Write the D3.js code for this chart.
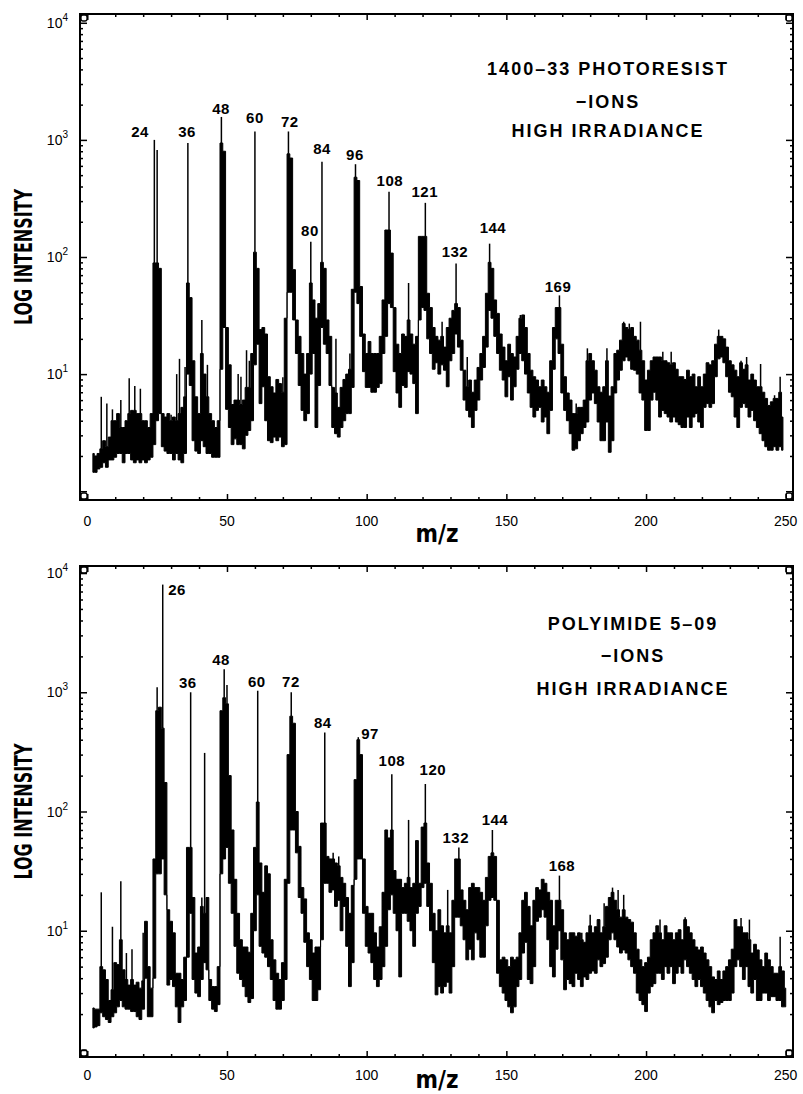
<!DOCTYPE html>
<html>
<head>
<meta charset="utf-8">
<script src="https://cdn.jsdelivr.net/npm/d3@7"></script>
<style>
  body { margin: 0; background: #fff; }
  svg { display: block; font-family: "Liberation Sans", Arial, sans-serif; }
</style>
</head>
<body>
<div id="chart"></div>
<script>
// m/z of the first value in every series, one value per m/z unit after that
const startMz = 2;

// 1400-33 photoresist: lower and upper edge of the trace band per m/z (2..249)
const photoresistHigh = [
  2.1, 2.0, 2.1, 2.3, 2.7, 2.4, 2.9, 4.0, 4.0, 4.6,
  3.5, 3.5, 4.0, 4.6, 4.9, 4.9, 4.6, 4.6, 4.0, 4.0,
  3.5, 4.6, 89, 89, 80, 4.6, 4.3, 4.6, 4.0, 4.3,
  4.0, 4.6, 5.2, 6.4, 60, 45, 13, 6.4, 4.6, 15,
  10, 6.4, 4.6, 4.0, 3.5, 4.0, 940, 800, 25, 12,
  5.5, 6, 6, 5.5, 6, 7.7, 7.7, 15, 110, 80,
  24, 25, 22, 9.5, 7.8, 6.9, 9, 8.3, 7, 30,
  760, 700, 78, 29, 21, 15, 10, 15, 60, 43,
  30, 40, 90, 80, 29, 21, 7.7, 6.9, 5.2, 7.7,
  9, 10, 11, 53, 480, 450, 56, 22, 15, 19,
  15, 15, 15, 21, 43, 170, 170, 108, 37, 18,
  15, 22, 21, 29, 22, 18, 21, 150, 150, 150,
  49, 37, 25, 21, 19.5, 21, 17, 25, 30, 35,
  40, 37, 19.5, 10.8, 7.8, 8.9, 7, 8.9, 11.4, 15,
  21, 49, 90, 80, 43, 33, 22, 17, 13, 18,
  15, 14, 21, 30, 32, 25, 15, 10.8, 9.5, 8.9,
  7.8, 8.9, 7.8, 7, 13, 25, 37, 37, 18, 9.5,
  6.9, 6, 4.6, 4.6, 5.2, 5.2, 6, 13, 15, 13,
  10.8, 7.8, 7, 7.8, 13, 6.5, 7.8, 15, 16, 19.5,
  27, 25, 24, 25, 21, 19.5, 16, 13, 8.9, 10.8,
  13, 14, 14, 14, 13, 13, 12.5, 12, 12.5, 11,
  9.5, 9.5, 9, 10.8, 9.5, 10, 7.8, 9.5, 7.8, 10,
  12.5, 12, 13, 18, 21, 21, 20, 17, 13, 12,
  10.8, 9.5, 12.5, 11, 12, 8.9, 10, 8.9, 7.8, 7.8,
  7, 6.2, 5.4, 5.8, 6.2, 6.2, 7, 4.3
];
const photoresistLow = [
  1.45, 1.45, 1.55, 1.6, 1.75, 1.6, 1.85, 1.85, 1.95, 2.1,
  2.1, 1.75, 2.1, 2.1, 1.85, 1.75, 1.85, 1.75, 1.85, 1.75,
  1.85, 1.95, 2.5, 4, 4.6, 2.4, 2.2, 2.1, 2.1, 1.85,
  2.1, 1.85, 1.75, 2.1, 10, 8, 2.7, 2.2, 2.1, 2.7,
  2.4, 2.1, 2.1, 1.95, 1.95, 1.95, 11, 25, 5, 3.5,
  2.5, 2.8, 2.5, 2.5, 2.3, 3, 3.3, 4, 12, 18,
  5.6, 7.8, 4, 2.7, 2.6, 2.9, 2.7, 2.9, 2.4, 2.5,
  50, 50, 29, 15, 8, 4.9, 4, 4.6, 10, 15,
  3.5, 8, 25, 18, 15, 8, 3.5, 3.1, 2.9, 3.5,
  4, 4.6, 4.6, 7.7, 50, 40, 21, 10.5, 7.7, 7.7,
  7, 7, 7.7, 8.3, 15, 21, 40, 37, 10.5, 6.9,
  5.2, 8, 7.7, 10.5, 10, 8.3, 4.6, 29, 37, 35,
  20, 15, 11, 12.5, 10, 12, 10.8, 7.8, 13, 15,
  22, 17, 10.8, 6, 4.9, 4.3, 3.5, 4.9, 6, 8.9,
  11.4, 17, 35, 30, 21, 15, 10.8, 8.9, 6.4, 9.5,
  6, 7.8, 11, 15, 13, 10, 6.9, 5.2, 4.3, 4.9,
  5.2, 3.9, 4.3, 3.1, 4.9, 11, 20, 15, 6.9, 4.9,
  4, 3.1, 2.24, 2.3, 2.7, 3.1, 3.5, 3.9, 6, 6.9,
  5.6, 3.9, 2.7, 2.7, 3.9, 2.15, 2.7, 6.9, 8.9, 10.8,
  13, 14, 13, 11, 10.8, 10, 6.9, 6, 3.3, 3.3,
  6, 7, 6, 4.3, 4.9, 4.6, 4.3, 3.9, 4.3, 3.9,
  3.7, 3.5, 3.5, 4.3, 3.5, 4.3, 4.6, 3.9, 3.5, 5.2,
  5.6, 5.2, 5.6, 9.5, 13.5, 14, 12.5, 9.5, 7, 6.4,
  4.3, 3.5, 5.2, 5.6, 5.2, 4.3, 4.9, 4, 3.5, 3.1,
  2.7, 2.4, 2.24, 2.24, 2.4, 2.24, 2.4, 2.24
];
// narrow lines that rise above the band: [m/z, intensity]
const photoresistSpikes = [
  [5, 6.4], [7, 5.6], [9, 5.0], [12, 6.0], [15, 9.2], [17, 7.9], [19, 7.5],
  [24, 1000], [25, 820], [30, 4.5], [32, 10], [33, 13.5], [35, 11.5], [36, 940],
  [41, 29], [43, 12], [48, 1570], [54, 10], [55, 9.5], [57, 16], [58, 13],
  [60, 1180], [70, 9.4], [72, 1180], [80, 135], [84, 650], [89, 20], [94, 15],
  [96, 620], [99, 19.5], [108, 360], [115, 60], [121, 290], [127, 28], [132, 88],
  [134, 14], [136, 14], [144, 130], [149, 16.6], [155, 32], [169, 47], [175, 5.6],
  [179, 16.6], [186, 16.6], [192, 28], [194, 27], [198, 28], [206, 15.5], [209, 15.5],
  [226, 24], [234, 13], [236, 14], [241, 12.2], [246, 6.6], [248, 9.5]
];
// peak labels: [text, m/z of text centre, intensity at baseline]
const photoresistPeakLabels = [
  ["24", 18.9, 1059], ["36", 35.7, 1059], ["48", 47.9, 1664], ["60", 60.0, 1393],
  ["72", 72.5, 1288], ["84", 84.0, 758], ["96", 95.8, 674], ["80", 79.7, 151],
  ["108", 108.3, 404], ["121", 120.8, 325], ["132", 131.6, 100], ["144", 145.2, 160],
  ["169", 168.5, 50]
];
const photoresistTitle = ["1400\u201333 PHOTORESIST", "\u2212IONS", "HIGH IRRADIANCE"];

// Polyimide 5-09: lower and upper edge of the trace band per m/z (2..250)
const polyimideHigh = [
  2.25, 2.2, 2.2, 5, 4.7, 3.9, 2.6, 3.2, 5.4, 5.2,
  8.4, 4.7, 3.9, 3.5, 3.9, 3.5, 3.7, 3.3, 3.8, 12,
  5, 3.3, 40, 700, 750, 500, 175, 15, 12, 9.6,
  4.4, 4.4, 3.9, 6, 50, 50, 19, 6.5, 7.3, 16,
  14, 19, 3.9, 3.4, 3.4, 5, 700, 900, 800, 200,
  70, 27, 14, 8.4, 7.3, 7.3, 6.6, 14, 50, 120,
  37, 21, 35, 30, 8.4, 5.7, 4.4, 3.9, 5.4, 27,
  300, 630, 550, 100, 51, 23, 18.5, 9.6, 8.4, 6.5,
  7.3, 7.3, 80, 80, 42, 40, 40, 37, 35, 28,
  25, 19, 14, 24, 185, 400, 300, 40, 16, 14,
  14, 9.6, 7.3, 10.8, 21, 70, 60, 70, 32, 27,
  27, 23, 25, 28, 23, 25, 57, 25, 74, 80,
  37, 25, 14, 10, 15, 11, 9.6, 11, 9.6, 18,
  40, 40, 22, 18, 15, 23, 25, 23, 23, 21,
  18, 28, 42, 45, 42, 18, 5.7, 6, 5.7, 5,
  6, 5.7, 6, 9.6, 18, 21, 16, 11, 18, 23,
  22, 27, 25, 21, 18, 11, 18, 18, 15, 9.6,
  8.4, 9.6, 9.6, 9, 9.6, 8.4, 8, 9.6, 11, 9.6,
  10.8, 12.4, 9.6, 10.8, 16, 19, 21, 18, 15, 13,
  15, 13, 12.4, 11.8, 9.6, 7, 5.7, 5, 5.4, 6,
  8.4, 9.6, 11, 9.6, 8.4, 11, 9.6, 9.6, 8.4, 9.6,
  10.2, 8.4, 12.4, 10.8, 9.6, 8.4, 7.3, 6.9, 7.3, 6.5,
  5.7, 5, 4.1, 3.9, 4.6, 3.9, 4.6, 5, 5.7, 7,
  12.4, 10.8, 10.8, 9.6, 9.6, 8.4, 6.5, 7.7, 6.9, 5.7,
  5, 6.5, 5.7, 5, 4.4, 4.4, 5, 4.6, 3.3
];
const polyimideLow = [
  1.53, 1.56, 1.6, 2.05, 1.9, 1.8, 1.7, 1.9, 2.05, 2.3,
  2.6, 2.3, 2.2, 2.2, 2.1, 2.1, 1.9, 1.8, 2.2, 4,
  1.9, 1.9, 4, 30, 30, 40, 20, 3.5, 3.9, 3.4,
  2.3, 1.7, 2.3, 2.6, 6, 14, 3.9, 3, 2.8, 3.9,
  5.4, 4.7, 2.6, 2.2, 2.1, 2.4, 30, 40, 50, 25,
  14, 7.4, 4.4, 3.9, 3.4, 2.8, 2.5, 2.7, 10, 20,
  7.4, 6.5, 6, 5, 3.9, 2.6, 2.2, 2.2, 2.6, 3.9,
  25, 70, 70, 45, 19, 14, 8, 5, 3.9, 2.6,
  2.6, 3.2, 8.4, 25, 25, 21, 22, 16, 18, 10,
  16, 7.4, 3.4, 5.4, 27, 40, 40, 14, 7.4, 6.5,
  5.4, 3.9, 3.4, 3.9, 5, 7.4, 15, 20, 14, 10,
  4.1, 14, 14, 12, 10, 7.4, 14, 16, 23, 25,
  16, 10, 5.4, 2.9, 3.4, 3, 3.4, 3.7, 3, 5,
  13, 13, 11, 8.4, 5.7, 7, 5.7, 9.6, 8.4, 6,
  6, 11, 18, 19, 18, 4.4, 3.4, 3, 2.6, 2.3,
  2.05, 2.3, 3.4, 3.9, 6.5, 8, 3.9, 3.6, 5, 12,
  13, 15, 13, 8.4, 5, 4.1, 7, 10, 5.7, 3.2,
  3.9, 3.6, 3.4, 4.4, 3.9, 3.4, 4.1, 3.9, 4.4, 4.6,
  4.4, 5.7, 5, 5.3, 6, 8.4, 9.6, 8.4, 7.3, 6.5,
  6.9, 6.5, 5.7, 5, 4.4, 3, 2.6, 2.4, 2.1, 3,
  3.4, 3.6, 4.4, 4.4, 3.9, 5, 4.4, 5, 3.6, 4.4,
  5, 4.4, 5.7, 5, 4.4, 3.9, 3.4, 3.9, 3.4, 3,
  2.6, 2.3, 2.05, 2.6, 2.4, 2.5, 2.6, 2.6, 2.6, 3,
  5, 5.7, 5, 3.9, 5, 3.4, 3, 3.9, 2.6, 2.6,
  3, 3, 2.6, 2.8, 2.8, 2.6, 2.6, 2.3, 2.3
];
const polyimideSpikes = [
  [5, 21], [9, 10.8], [12, 26], [14, 6.5], [16, 7], [20, 9.6], [25, 1100],
  [27, 8000], [30, 12], [37, 1000], [41, 19], [42, 310], [49, 1560], [50, 1150],
  [61, 1030], [73, 1000], [85, 460], [88, 45], [90, 42], [97, 420], [109, 205],
  [115, 85], [118, 57], [121, 170], [129, 22], [133, 50], [145, 70], [163, 27],
  [169, 29], [177, 9.6], [180, 13.6], [185, 17], [188, 23], [190, 22], [192, 20],
  [205, 12.4], [214, 13], [232, 12.4], [234, 12.8], [237, 12.4], [248, 8.9]
];
const polyimidePeakLabels = [
  ["26", 32.1, 6560], ["36", 36.0, 1088], ["48", 47.9, 1698], ["60", 60.7, 1110],
  ["72", 72.9, 1110], ["84", 84.3, 503], ["97", 101.2, 406], ["108", 109.0, 241],
  ["120", 123.7, 203], ["132", 131.9, 54.5], ["144", 145.9, 77], ["168", 169.9, 31.8]
];
const polyimideTitle = ["POLYIMIDE 5\u201309", "\u2212IONS", "HIGH IRRADIANCE"];

const xTickLabels = [0, 50, 100, 150, 200, 250];
const yTickLabels = [10, 100, 1000, 10000];

const width = 803, height = 1094;
const left = 80, right = 793;

const svg = d3.select("#chart").append("svg")
  .attr("width", width)
  .attr("height", height);

const x = d3.scaleLinear().domain([-2.61, 252.6]).range([left, right]);

const panels = [
  { top: 14, bottom: 500, pad: 0.075, high: photoresistHigh, low: photoresistLow,
    spikes: photoresistSpikes, labels: photoresistPeakLabels, title: photoresistTitle,
    titleX: 608, titleY: [75, 108, 137], tickLabelY: 26, xTitleY: 542 },
  { top: 566, bottom: 1057, pad: 0.059, high: polyimideHigh, low: polyimideLow,
    spikes: polyimideSpikes, labels: polyimidePeakLabels, title: polyimideTitle,
    titleX: 633, titleY: [630, 662, 695], tickLabelY: 23, xTitleY: 1088 }
];

function isDecade(v) {
  const l = Math.log10(v);
  return Math.abs(l - Math.round(l)) < 1e-6;
}

function drawPanel(p) {
  const y = d3.scaleLog()
    .domain([10 ** -p.pad, 10 ** (4 + p.pad)])
    .range([p.bottom, p.top]);
  const g = svg.append("g");

  const rows = p.high.map((h, i) => ({ mz: startMz + i, hi: h, lo: p.low[i] }));
  const byMz = new Map(rows.map(r => [r.mz, r]));

  // the trace band, stepped so the noise keeps its ragged look
  const area = d3.area()
    .x(d => x(d.mz))
    .y0(d => y(d.lo))
    .y1(d => y(d.hi))
    .curve(d3.curveStep);

  g.append("path")
    .datum(rows)
    .attr("d", area)
    .attr("fill", "#000")
    .attr("stroke", "#000")
    .attr("stroke-width", 1);

  g.selectAll(".spike")
    .data(p.spikes)
    .join("line")
    .attr("class", "spike")
    .attr("x1", d => x(d[0]))
    .attr("x2", d => x(d[0]))
    .attr("y1", d => y(byMz.get(d[0]).hi))
    .attr("y2", d => y(d[1]))
    .attr("stroke", "#000")
    .attr("stroke-width", 1.5);

  // ticks on all four sides, pointing inward
  const yTicks = y.ticks().filter(v => v >= 1 && v <= 10000);
  const yMajor = yTicks.filter(isDecade);
  const yMinor = yTicks.filter(v => !isDecade(v));
  const xMajor = d3.range(0, 251, 50);
  const xMinor = d3.range(10, 250, 10).filter(v => v % 50 !== 0);

  const styleAxis = a => {
    a.select(".domain").remove();
    a.selectAll(".tick line").attr("stroke", "#000").attr("stroke-width", 1.5);
  };

  g.append("g").attr("transform", `translate(${left},0)`)
    .call(d3.axisLeft(y).tickValues(yMajor).tickSize(-7).tickFormat("")).call(styleAxis);
  g.append("g").attr("transform", `translate(${left},0)`)
    .call(d3.axisLeft(y).tickValues(yMinor).tickSize(-3).tickFormat("")).call(styleAxis);
  g.append("g").attr("transform", `translate(${right},0)`)
    .call(d3.axisRight(y).tickValues(yMajor).tickSize(-7).tickFormat("")).call(styleAxis);
  g.append("g").attr("transform", `translate(${right},0)`)
    .call(d3.axisRight(y).tickValues(yMinor).tickSize(-3).tickFormat("")).call(styleAxis);

  g.append("g").attr("transform", `translate(0,${p.bottom})`)
    .call(d3.axisBottom(x).tickValues(xMajor).tickSize(-6).tickFormat("")).call(styleAxis);
  g.append("g").attr("transform", `translate(0,${p.bottom})`)
    .call(d3.axisBottom(x).tickValues(xMinor).tickSize(-3).tickFormat("")).call(styleAxis);
  g.append("g").attr("transform", `translate(0,${p.top})`)
    .call(d3.axisTop(x).tickValues(xMajor).tickSize(-6).tickFormat("")).call(styleAxis);
  g.append("g").attr("transform", `translate(0,${p.top})`)
    .call(d3.axisTop(x).tickValues(xMinor).tickSize(-3).tickFormat("")).call(styleAxis);

  // frame
  g.append("rect")
    .attr("x", left).attr("y", p.top)
    .attr("width", right - left).attr("height", p.bottom - p.top)
    .attr("fill", "none").attr("stroke", "#000").attr("stroke-width", 2);

  // little corner marks of the plotter
  const corners = [[left + 1, p.top + 1], [right - 7, p.top + 1],
                   [left + 1, p.bottom - 7], [right - 7, p.bottom - 7]];
  g.selectAll(".corner")
    .data(corners)
    .join("rect")
    .attr("class", "corner")
    .attr("x", d => d[0]).attr("y", d => d[1])
    .attr("width", 6).attr("height", 6).attr("rx", 2)
    .attr("fill", "none").attr("stroke", "#000").attr("stroke-width", 1.3);

  // x tick labels
  g.selectAll(".xlab")
    .data(xTickLabels)
    .join("text")
    .attr("class", "xlab")
    .attr("x", d => x(d))
    .attr("y", p.bottom + p.tickLabelY)
    .attr("text-anchor", "middle")
    .attr("font-size", 14)
    .text(d => d);

  // y tick labels 10^n
  const ylab = g.selectAll(".ylab")
    .data(yTickLabels)
    .join("text")
    .attr("class", "ylab")
    .attr("x", 68)
    .attr("y", d => y(d) + 5)
    .attr("text-anchor", "end")
    .attr("font-size", 14);
  ylab.append("tspan").text("10");
  ylab.append("tspan")
    .attr("dy", -7)
    .attr("font-size", 10)
    .text(d => Math.round(Math.log10(d)));

  // axis titles
  g.append("text")
    .attr("transform", `translate(32,${(p.top + p.bottom) / 2}) rotate(-90)`)
    .attr("text-anchor", "middle")
    .attr("font-family", "'Liberation Sans Narrow', 'DejaVu Sans Condensed', sans-serif")
    .attr("font-weight", "bold")
    .attr("font-size", 25)
    .attr("textLength", 136)
    .attr("lengthAdjust", "spacingAndGlyphs")
    .text("LOG INTENSITY");

  g.append("text")
    .attr("x", 437)
    .attr("y", p.xTitleY)
    .attr("text-anchor", "middle")
    .attr("font-family", "'Liberation Sans Narrow', 'DejaVu Sans Condensed', sans-serif")
    .attr("font-weight", "bold")
    .attr("font-size", 24)
    .text("m/z");

  // peak labels
  g.selectAll(".peak")
    .data(p.labels)
    .join("text")
    .attr("class", "peak")
    .attr("x", d => x(d[1]))
    .attr("y", d => y(d[2]))
    .attr("text-anchor", "middle")
    .attr("font-weight", "bold")
    .attr("font-size", 15)
    .attr("letter-spacing", 0.5)
    .text(d => d[0]);

  // sample description
  g.selectAll(".title")
    .data(p.title)
    .join("text")
    .attr("class", "title")
    .attr("x", p.titleX)
    .attr("y", (d, i) => p.titleY[i])
    .attr("text-anchor", "middle")
    .attr("font-weight", "bold")
    .attr("font-size", 18)
    .attr("letter-spacing", 2)
    .text(d => d);
}

panels.forEach(drawPanel);
</script>
</body>
</html>
